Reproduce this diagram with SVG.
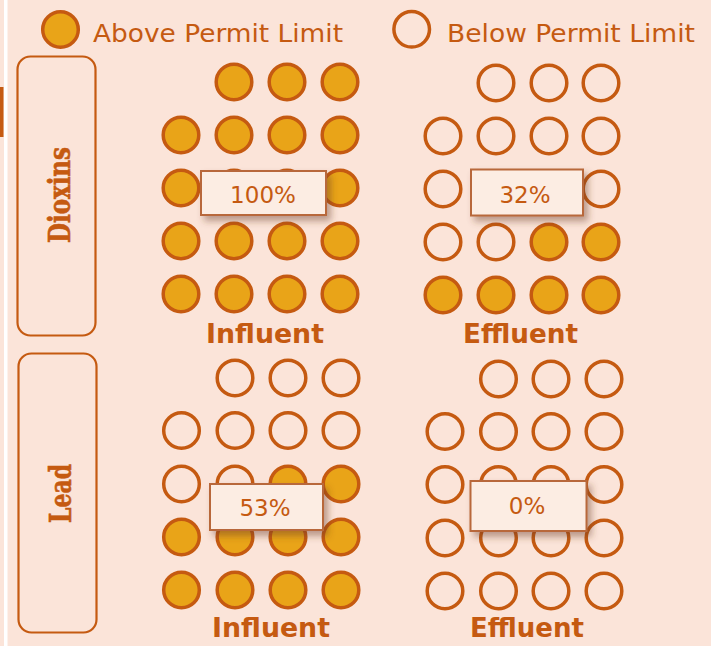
<svg xmlns="http://www.w3.org/2000/svg" width="711" height="646" viewBox="0 0 711 646">
<defs>
<style>
.on{fill:#E9A418;stroke:#C55A11;stroke-width:3.5}
.off{fill:none;stroke:#C55A11;stroke-width:3.5}
.cat{fill:none;stroke:#C55A11;stroke-width:2.2}
.cattxt{font-family:"DejaVu Serif Condensed","DejaVu Serif","Liberation Serif",serif;font-stretch:condensed;font-weight:bold;font-size:29px;fill:#C55A11;stroke:#C55A11;stroke-width:0.6;text-anchor:middle}
.leg{font-family:"DejaVu Sans","Open Sans",sans-serif;font-size:25px;fill:#C55A11}
.sub{font-family:"DejaVu Sans",sans-serif;font-weight:bold;font-size:26px;fill:#C55A11;text-anchor:middle}
.box{fill:#FCEDE3;stroke:#B8683A;stroke-width:2}
.pct{font-family:"DejaVu Sans",sans-serif;font-size:23px;fill:#C55A11;text-anchor:middle}
</style>
<filter id="sh" x="-20%" y="-30%" width="150%" height="180%">
<feDropShadow dx="4" dy="5" stdDeviation="3.5" flood-color="#6b3a20" flood-opacity="0.45"/>
</filter>
</defs>
<rect x="0" y="0" width="711" height="646" fill="#FBE4D9"/>
<rect x="4" y="0" width="3.5" height="646" fill="#FFFFFF"/>
<rect x="0" y="87" width="3.5" height="50" fill="#C55A11"/>

<g id="legend">
<circle class="on" cx="60.5" cy="29.5" r="17.8"/>
<text class="leg" x="93" y="41.5" textLength="250" lengthAdjust="spacingAndGlyphs">Above Permit Limit</text>
<circle class="off" cx="411.7" cy="29.3" r="17.8"/>
<text class="leg" x="447" y="41.5" textLength="248" lengthAdjust="spacingAndGlyphs">Below Permit Limit</text>
</g>

<g id="dioxins-label">
<rect class="cat" x="17.5" y="56.5" width="78" height="279" rx="13"/>
<text class="cattxt" transform="translate(69.5,195) rotate(-90)" textLength="96" lengthAdjust="spacingAndGlyphs">Dioxins</text>
</g>
<g id="lead-label">
<rect class="cat" x="18.5" y="353.5" width="78" height="279" rx="13"/>
<text class="cattxt" transform="translate(70.5,493.5) rotate(-90)" textLength="59" lengthAdjust="spacingAndGlyphs">Lead</text>
</g>

<g id="dioxins-influent">
<circle class="on" cx="234" cy="82" r="17.8"/><circle class="on" cx="287" cy="82" r="17.8"/><circle class="on" cx="340" cy="82" r="17.8"/>
<circle class="on" cx="181" cy="135" r="17.8"/><circle class="on" cx="234" cy="135" r="17.8"/><circle class="on" cx="287" cy="135" r="17.8"/><circle class="on" cx="340" cy="135" r="17.8"/>
<circle class="on" cx="181" cy="188" r="17.8"/><circle class="on" cx="234" cy="188" r="17.8"/><circle class="on" cx="287" cy="188" r="17.8"/><circle class="on" cx="340" cy="188" r="17.8"/>
<circle class="on" cx="181" cy="241" r="17.8"/><circle class="on" cx="234" cy="241" r="17.8"/><circle class="on" cx="287" cy="241" r="17.8"/><circle class="on" cx="340" cy="241" r="17.8"/>
<circle class="on" cx="181" cy="294" r="17.8"/><circle class="on" cx="234" cy="294" r="17.8"/><circle class="on" cx="287" cy="294" r="17.8"/><circle class="on" cx="340" cy="294" r="17.8"/>
<text class="sub" x="265" y="343" textLength="118" lengthAdjust="spacingAndGlyphs">Influent</text>
<rect class="box" x="201" y="171" width="125" height="44" filter="url(#sh)"/>
<text class="pct" x="263" y="203">100%</text>
</g>

<g id="dioxins-effluent">
<circle class="off" cx="496" cy="83" r="17.8"/><circle class="off" cx="549" cy="83" r="17.8"/><circle class="off" cx="601" cy="83" r="17.8"/>
<circle class="off" cx="443" cy="136" r="17.8"/><circle class="off" cx="496" cy="136" r="17.8"/><circle class="off" cx="549" cy="136" r="17.8"/><circle class="off" cx="601" cy="136" r="17.8"/>
<circle class="off" cx="443" cy="189" r="17.8"/><circle class="off" cx="496" cy="189" r="17.8"/><circle class="off" cx="549" cy="189" r="17.8"/><circle class="off" cx="601" cy="189" r="17.8"/>
<circle class="off" cx="443" cy="242" r="17.8"/><circle class="off" cx="496" cy="242" r="17.8"/><circle class="on" cx="549" cy="242" r="17.8"/><circle class="on" cx="601" cy="242" r="17.8"/>
<circle class="on" cx="443" cy="295" r="17.8"/><circle class="on" cx="496" cy="295" r="17.8"/><circle class="on" cx="549" cy="295" r="17.8"/><circle class="on" cx="601" cy="295" r="17.8"/>
<text class="sub" x="520.5" y="343" textLength="115" lengthAdjust="spacingAndGlyphs">Effluent</text>
<rect class="box" x="471" y="169.5" width="112" height="46" filter="url(#sh)"/>
<text class="pct" x="525" y="202.5">32%</text>
</g>

<g id="lead-influent">
<circle class="off" cx="235" cy="378" r="17.8"/><circle class="off" cx="288" cy="378" r="17.8"/><circle class="off" cx="341" cy="378" r="17.8"/>
<circle class="off" cx="181.5" cy="430.5" r="17.8"/><circle class="off" cx="235" cy="430.5" r="17.8"/><circle class="off" cx="288" cy="430.5" r="17.8"/><circle class="off" cx="341" cy="430.5" r="17.8"/>
<circle class="off" cx="181.5" cy="484" r="17.8"/><circle class="off" cx="235" cy="484" r="17.8"/><circle class="on" cx="288" cy="484" r="17.8"/><circle class="on" cx="341" cy="484" r="17.8"/>
<circle class="on" cx="181.5" cy="537" r="17.8"/><circle class="on" cx="235" cy="537" r="17.8"/><circle class="on" cx="288" cy="537" r="17.8"/><circle class="on" cx="341" cy="537" r="17.8"/>
<circle class="on" cx="181.5" cy="590" r="17.8"/><circle class="on" cx="235" cy="590" r="17.8"/><circle class="on" cx="288" cy="590" r="17.8"/><circle class="on" cx="341" cy="590" r="17.8"/>
<text class="sub" x="271" y="637" textLength="118" lengthAdjust="spacingAndGlyphs">Influent</text>
<rect class="box" x="210" y="484" width="113" height="46" filter="url(#sh)"/>
<text class="pct" x="265" y="516">53%</text>
</g>

<g id="lead-effluent">
<circle class="off" cx="498.5" cy="379" r="17.8"/><circle class="off" cx="551" cy="379" r="17.8"/><circle class="off" cx="604" cy="379" r="17.8"/>
<circle class="off" cx="445" cy="431.5" r="17.8"/><circle class="off" cx="498.5" cy="431.5" r="17.8"/><circle class="off" cx="551" cy="431.5" r="17.8"/><circle class="off" cx="604" cy="431.5" r="17.8"/>
<circle class="off" cx="445" cy="484.5" r="17.8"/><circle class="off" cx="498.5" cy="484.5" r="17.8"/><circle class="off" cx="551" cy="484.5" r="17.8"/><circle class="off" cx="604" cy="484.5" r="17.8"/>
<circle class="off" cx="445" cy="538" r="17.8"/><circle class="off" cx="498.5" cy="538" r="17.8"/><circle class="off" cx="551" cy="538" r="17.8"/><circle class="off" cx="604" cy="538" r="17.8"/>
<circle class="off" cx="445" cy="591" r="17.8"/><circle class="off" cx="498.5" cy="591" r="17.8"/><circle class="off" cx="551" cy="591" r="17.8"/><circle class="off" cx="604" cy="591" r="17.8"/>
<text class="sub" x="527" y="636.5" textLength="114" lengthAdjust="spacingAndGlyphs">Effluent</text>
<rect class="box" x="470.5" y="481" width="116" height="50" filter="url(#sh)"/>
<text class="pct" x="527" y="513.5">0%</text>
</g>
</svg>
